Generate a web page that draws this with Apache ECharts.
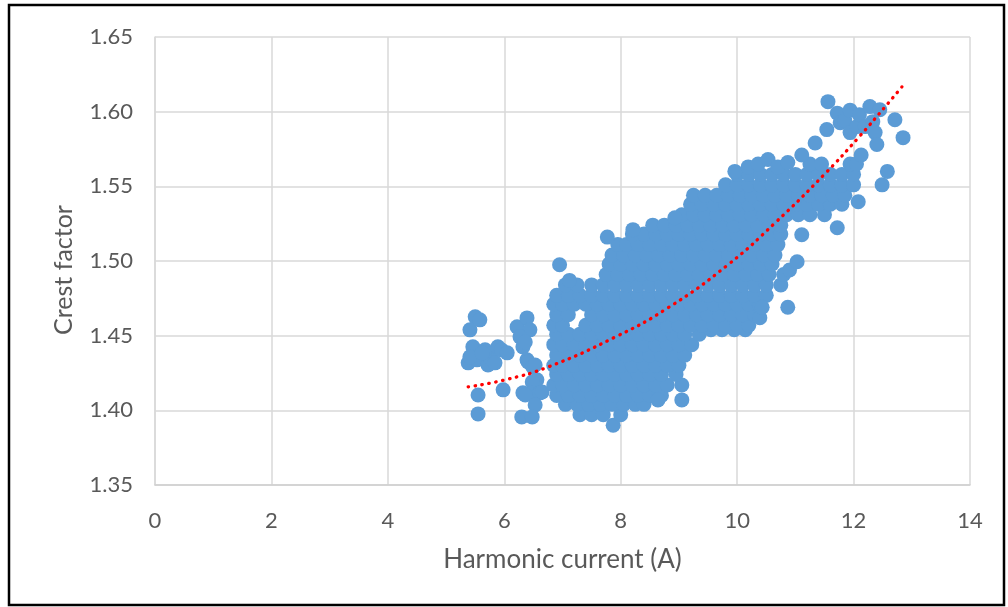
<!DOCTYPE html>
<html>
<head>
<meta charset="utf-8">
<script src="https://cdn.jsdelivr.net/npm/echarts@6/dist/echarts.min.js"></script>
<style>
  html, body { margin: 0; padding: 0; background: #ffffff; }
  #chart { width: 1008px; height: 607px; }
</style>
</head>
<body>
<div id="chart"></div>
<script>
// Axis ranges
const currentMin = 0, currentMax = 14, currentStep = 2;
const crestMin = 1.35, crestMax = 1.65, crestStep = 0.05;

// Low-current group on the left: [harmonic current (A), crest factor]
const leftCluster = [
  [5.50, 1.4626], [5.41, 1.4539], [5.58, 1.4606], [5.46, 1.4425], [5.38, 1.4318],
  [5.53, 1.4338], [5.41, 1.4358], [5.55, 1.4103], [5.55, 1.3976], [5.72, 1.4304],
  [5.75, 1.4358], [5.67, 1.4405], [5.62, 1.4385], [5.89, 1.4425], [5.84, 1.4318],
  [5.95, 1.4405], [6.05, 1.4385], [5.98, 1.4137], [6.22, 1.4559], [6.39, 1.4619],
  [6.44, 1.4539], [6.27, 1.4492], [6.32, 1.4425], [6.36, 1.4458], [6.39, 1.4338],
  [6.41, 1.4324], [6.49, 1.4291], [6.53, 1.4304], [6.56, 1.4204], [6.48, 1.4190],
  [6.32, 1.4117], [6.48, 1.4117], [6.36, 1.4103], [6.61, 1.4117], [6.65, 1.4123],
  [6.53, 1.4036], [6.30, 1.3956], [6.48, 1.3956]
];

// Main band, one row per crest-factor level: [crest factor, [currents...]]
const bandRows = [
  [1.390, [7.87]],
  [1.397, [7.30, 7.50, 7.70, 8.00]],
  [1.404, [7.05, 7.25, 7.45, 7.65, 7.85, 8.05, 8.25, 8.40]],
  [1.410, [6.90, 7.10, 7.30, 7.50, 7.70, 7.90, 8.10, 8.30, 8.50, 8.70]],
  [1.417, [6.85, 7.00, 7.20, 7.40, 7.60, 7.80, 8.00, 8.20, 8.40, 8.60, 8.80, 9.05]],
  [1.424, [6.90, 7.10, 7.30, 7.50, 7.70, 7.90, 8.10, 8.30, 8.50, 8.70, 8.95]],
  [1.430, [6.85, 7.00, 7.20, 7.40, 7.60, 7.80, 8.00, 8.20, 8.40, 8.60, 8.80, 9.00]],
  [1.437, [6.90, 7.10, 7.30, 7.50, 7.70, 7.90, 8.10, 8.30, 8.50, 8.70, 8.90, 9.10]],
  [1.444, [6.85, 7.00, 7.20, 7.40, 7.60, 7.80, 8.00, 8.20, 8.40, 8.60, 8.80, 9.00, 9.22]],
  [1.451, [6.90, 7.10, 7.30, 7.50, 7.70, 7.90, 8.10, 8.30, 8.50, 8.70, 8.90, 9.10, 9.35]],
  [1.454, [9.55, 9.74, 9.95, 10.14]],
  [1.457, [6.85, 7.00, 7.40, 7.60, 7.80, 8.00, 8.20, 8.40, 8.60, 8.80, 9.00, 9.20, 9.40, 9.60, 9.80, 10.00, 10.20]],
  [1.464, [6.90, 7.10, 7.50, 7.70, 7.90, 8.10, 8.30, 8.50, 8.70, 8.90, 9.10, 9.30, 9.50, 9.70, 9.90, 10.10, 10.30]],
  [1.471, [6.85, 7.00, 7.20, 7.40, 7.60, 7.80, 8.00, 8.20, 8.40, 8.60, 8.80, 9.00, 9.20, 9.40, 9.60, 9.80, 10.00, 10.20, 10.38]],
  [1.477, [6.90, 7.10, 7.30, 7.50, 7.70, 7.90, 8.10, 8.30, 8.50, 8.70, 8.90, 9.10, 9.30, 9.50, 9.70, 9.90, 10.10, 10.30, 10.50]],
  [1.484, [7.05, 7.25, 7.50, 7.70, 7.90, 8.10, 8.30, 8.50, 8.70, 8.90, 9.10, 9.30, 9.50, 9.70, 9.90, 10.10, 10.30, 10.50, 10.75]],
  [1.491, [7.75, 7.95, 8.15, 8.35, 8.55, 8.75, 8.95, 9.15, 9.35, 9.55, 9.75, 9.95, 10.15, 10.35, 10.55, 10.80]],
  [1.498, [7.80, 8.00, 8.20, 8.40, 8.60, 8.80, 9.00, 9.20, 9.40, 9.60, 9.80, 10.00, 10.20, 10.40, 10.60]],
  [1.504, [7.85, 8.05, 8.25, 8.45, 8.65, 8.85, 9.05, 9.25, 9.45, 9.65, 9.85, 10.05, 10.25, 10.45, 10.65]],
  [1.511, [7.95, 8.10, 8.30, 8.50, 8.70, 8.90, 9.10, 9.30, 9.50, 9.70, 9.90, 10.10, 10.30, 10.50, 10.70]],
  [1.518, [8.20, 8.40, 8.60, 8.80, 9.00, 9.20, 9.40, 9.60, 9.80, 10.00, 10.20, 10.40, 10.60, 10.75]],
  [1.524, [8.55, 8.75, 8.95, 9.15, 9.35, 9.55, 9.75, 9.95, 10.15, 10.35, 10.55, 10.75]],
  [1.531, [9.05, 9.25, 9.45, 9.65, 9.85, 10.05, 10.25, 10.45, 10.65, 10.85, 11.05, 11.25, 11.50]],
  [1.538, [9.20, 9.40, 9.60, 9.80, 10.00, 10.20, 10.40, 10.60, 10.80, 11.00, 11.20, 11.40, 11.60, 11.80]],
  [1.544, [9.25, 9.45, 9.65, 9.85, 10.05, 10.25, 10.45, 10.65, 10.85, 11.05, 11.25, 11.45, 11.65, 11.85]],
  [1.551, [9.80, 10.00, 10.20, 10.40, 10.60, 10.80, 11.00, 11.20, 11.40, 11.60, 11.80, 12.00]],
  [1.558, [10.00, 10.20, 10.40, 10.60, 10.80, 11.00, 11.20, 11.40, 11.60, 11.80, 12.00]],
  [1.565, [11.25, 11.45, 11.94, 12.05]],
  [1.571, [11.11, 12.13]]
];

// High-current group near the top right
const upperCluster = [
  [11.56, 1.6067], [11.54, 1.5880], [11.72, 1.5990], [11.77, 1.5926], [11.85, 1.5940],
  [11.94, 1.6010], [11.94, 1.5860], [12.06, 1.5900], [12.10, 1.5980], [12.20, 1.5900],
  [12.28, 1.6034], [12.33, 1.5933], [12.37, 1.5860], [12.45, 1.6013], [12.71, 1.5946],
  [12.85, 1.5826]
];

// Scattered single readings around the band
const looseMarks = [
  [8.64, 1.407], [9.05, 1.407], [10.39, 1.462], [10.43, 1.469], [10.87, 1.469],
  [6.95, 1.4975], [7.12, 1.487], [10.90, 1.494], [11.03, 1.4995], [7.77, 1.516],
  [8.21, 1.521], [11.11, 1.5176], [11.72, 1.5223], [8.93, 1.529], [12.08, 1.5397],
  [12.49, 1.551], [12.58, 1.560], [11.34, 1.579], [12.40, 1.578],
  [9.96, 1.560], [10.19, 1.563], [10.36, 1.565], [10.53, 1.568], [10.70, 1.563], [10.87, 1.566]
];

// Trend curve (dotted red)
const trendCurrent = [5.38, 6.01, 6.75, 7.90, 8.81, 9.84, 10.65, 11.51, 12.08, 12.58, 12.83];
const trendCrest   = [1.4157, 1.4204, 1.4290, 1.4490, 1.4686, 1.4974, 1.5255, 1.5585, 1.5825, 1.6050, 1.6166];

const bandPoints = [];
bandRows.forEach(([cf, currents]) => currents.forEach(a => bandPoints.push([a, cf])));
const measured = leftCluster.concat(bandPoints, upperCluster, looseMarks);
const trend = trendCurrent.map((a, i) => [a, trendCrest[i]]);

const font = 'Lato';
const textGrey = '#595959';
const gridGrey = '#D9D9D9';

const chart = echarts.init(document.getElementById('chart'), null, { renderer: 'canvas' });
chart.setOption({
  animation: false,
  backgroundColor: '#ffffff',
  grid: { left: 155, right: 38, top: 37, bottom: 122, containLabel: false },
  xAxis: {
    type: 'value', min: currentMin, max: currentMax, interval: currentStep,
    name: 'Harmonic current (A)', nameLocation: 'middle', nameGap: 62,
    nameTextStyle: { fontFamily: font, fontSize: 26, color: textGrey },
    axisLine: { show: true, lineStyle: { color: '#CFCFCF', width: 1.5 } },
    axisTick: { show: false },
    axisLabel: { margin: 25, fontFamily: font, fontSize: 22, color: textGrey },
    splitLine: { show: true, lineStyle: { color: gridGrey, width: 1.5 } }
  },
  yAxis: {
    type: 'value', min: crestMin, max: crestMax, interval: crestStep,
    name: 'Crest factor', nameLocation: 'middle', nameGap: 79,
    nameTextStyle: { fontFamily: font, fontSize: 25, color: textGrey, padding: [0, 18, 0, 0] },
    axisLine: { show: true, lineStyle: { color: gridGrey, width: 1.5 } },
    axisTick: { show: false },
    axisLabel: { margin: 22, fontFamily: font, fontSize: 22, color: textGrey,
                 formatter: v => v.toFixed(2) },
    splitLine: { show: true, lineStyle: { color: gridGrey, width: 1.5 } }
  },
  series: [
    {
      type: 'scatter', data: measured, symbol: 'circle', symbolSize: 15,
      itemStyle: { color: '#5B9BD5', opacity: 1 }, z: 2
    },
    {
      type: 'line', data: trend, smooth: true, showSymbol: false, symbol: 'none',
      lineStyle: { color: '#FF0000', width: 3.3, type: [0.5, 6.5], cap: 'round' }, z: 5
    }
  ],
  graphic: [{
    type: 'rect', silent: true, z: 100,
    shape: { x: 9, y: 5, width: 995, height: 600 },
    style: { fill: null, stroke: '#000000', lineWidth: 2.5 }
  }]
});
</script>
</body>
</html>
